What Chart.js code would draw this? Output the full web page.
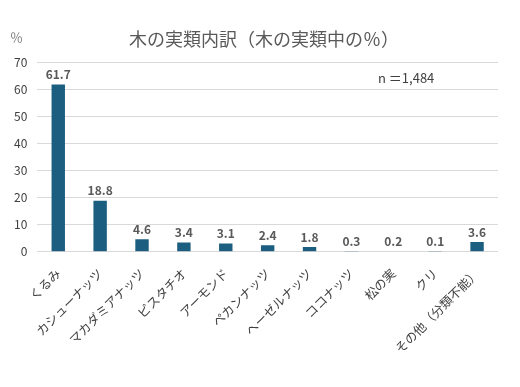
<!DOCTYPE html>
<html>
<head>
<meta charset="utf-8">
<script src="https://cdn.jsdelivr.net/npm/chart.js@4"></script>
<style>
    body { margin: 0; background: #fff; }
    #wrap { width: 520px; height: 387px; }
</style>
</head>
<body>
<div id="wrap"><canvas id="nutChart" width="520" height="387"></canvas></div>
<script>
const categories = ['くるみ', 'カシューナッツ', 'マカダミアナッツ', 'ピスタチオ', 'アーモンド', 'ペカンナッツ', 'ヘーゼルナッツ', 'ココナッツ', '松の実', 'クリ', 'その他（分類不能）'];
const shares = [61.7, 18.8, 4.6, 3.4, 3.1, 2.4, 1.8, 0.3, 0.2, 0.1, 3.6];
const yTicks = [0, 10, 20, 30, 40, 50, 60, 70];

const FONT = '"Noto Sans CJK JP", "Noto Sans", sans-serif';

// title, value labels above bars, the "%" unit and the n= note
const extras = {
    id: 'extras',
    afterDatasetsDraw(chart) {
        const ctx = chart.ctx;
        const meta = chart.getDatasetMeta(0);
        ctx.save();
        ctx.fillStyle = '#595959';
        ctx.font = 'bold 12px ' + FONT;
        ctx.textAlign = 'center';
        ctx.textBaseline = 'bottom';
        meta.data.forEach((bar, i) => {
            ctx.fillText(shares[i].toFixed(1), bar.x, bar.y - 4);
        });

        ctx.textBaseline = 'middle';
        ctx.font = '18px ' + FONT;
        ctx.fillStyle = '#595959';
        ctx.fillText('木の実類内訳（木の実類中の％）', 264, 39);

        ctx.textAlign = 'left';
        ctx.font = '13px ' + FONT;
        ctx.fillStyle = '#7f7f7f';
        ctx.fillText('％', 10, 37);

        ctx.fillStyle = '#404040';
        ctx.fillText('n ＝1,484', 378, 78);
        ctx.restore();
    }
};

const ctx = document.getElementById('nutChart').getContext('2d');
const nutChart = new Chart(ctx, {
    type: 'bar',
    data: {
        labels: categories,
        datasets: [{
            data: shares,
            backgroundColor: '#1b5e80',
            barPercentage: 0.64,
            categoryPercentage: 0.5
        }]
    },
    options: {
        responsive: false,
        animation: false,
        layout: {
            padding: { top: 62, right: 22, bottom: 25, left: 4 }
        },
        plugins: {
            legend: { display: false },
            tooltip: { enabled: false },
            title: { display: false }
        },
        scales: {
            y: {
                min: 0,
                max: 70,
                afterBuildTicks(axis) {
                    axis.ticks = yTicks.map(v => ({ value: v }));
                },
                ticks: {
                    color: '#404040',
                    font: { family: FONT, size: 12 },
                    padding: 10
                },
                grid: {
                    color: '#d9d9d9',
                    drawTicks: false
                },
                border: { display: false }
            },
            x: {
                ticks: {
                    color: '#404040',
                    font: { family: FONT, size: 12.5 },
                    maxRotation: 45,
                    minRotation: 45,
                    autoSkip: false,
                    padding: 6
                },
                grid: { display: false },
                border: { display: false }
            }
        }
    },
    plugins: [extras]
});
</script>
</body>
</html>
